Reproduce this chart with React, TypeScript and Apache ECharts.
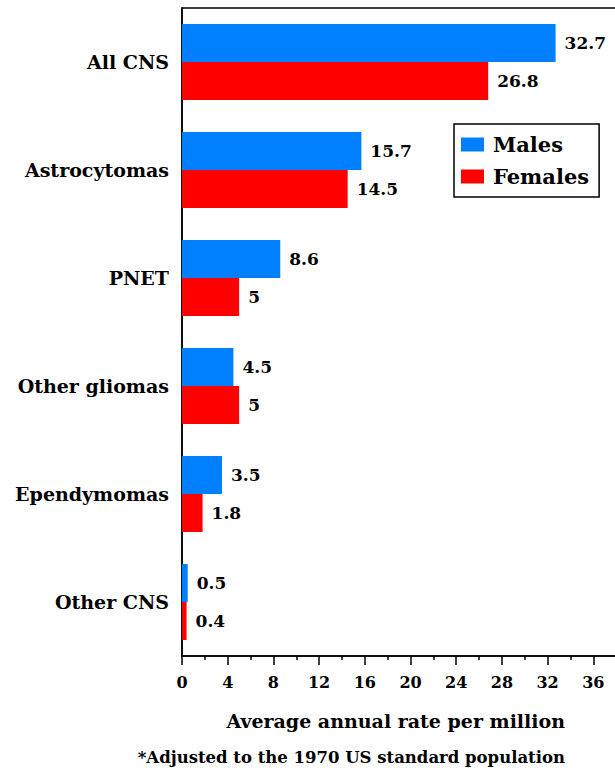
import React, { useEffect, useRef } from "react";
import * as echarts from "echarts";

const categories = ["All CNS", "Astrocytomas", "PNET", "Other gliomas", "Ependymomas", "Other CNS"];
const males = [32.7, 15.7, 8.6, 4.5, 3.5, 0.5];
const females = [26.8, 14.5, 5, 5, 1.8, 0.4];
const axisTitle = "Average annual rate per million";
const footnote = "*Adjusted to the 1970 US standard population";

const FONT = "'DejaVu Serif', 'Liberation Serif', serif";

export default function App() {
  const ref = useRef<HTMLDivElement>(null);
  useEffect(() => {
    if (!ref.current) return;
    const chart = echarts.init(ref.current, null, { renderer: "svg" });
    const labelStyle = {
      show: true,
      position: "right",
      distance: 9,
      fontFamily: FONT,
      fontWeight: "bold",
      fontSize: 17,
      color: "#000",
    };
    chart.setOption({
      animation: false,
      backgroundColor: "#fff",
      textStyle: { fontFamily: FONT },
      grid: {
        left: 182,
        top: 8,
        bottom: 119,
        right: -24,
        outerBoundsMode: "none",
        containLabel: false,
        show: true,
        borderColor: "#000",
        borderWidth: 1.5,
      },
      legend: {
        data: ["Males", "Females"],
        orient: "vertical",
        left: 454,
        top: 124,
        itemWidth: 23,
        itemHeight: 14,
        itemGap: 11,
        padding: [10, 10, 10, 7],
        borderColor: "#000",
        borderWidth: 1.5,
        backgroundColor: "#fff",
        icon: "rect",
        textStyle: {
          fontFamily: FONT,
          fontWeight: "bold",
          fontSize: 21,
          color: "#000",
          width: 104,
          padding: [0, 0, 0, 4],
        },
      },
      xAxis: {
        type: "value",
        min: 0,
        max: 40,
        interval: 4,
        axisLine: { show: true, lineStyle: { color: "#000", width: 1.5 } },
        axisTick: { show: true, length: 9, lineStyle: { color: "#000", width: 1.5 } },
        minorTick: { show: true, splitNumber: 2, length: 4, lineStyle: { color: "#000", width: 1.5 } },
        splitLine: { show: false },
        axisLabel: {
          margin: 18,
          showMaxLabel: false,
          fontFamily: FONT,
          fontWeight: "bold",
          fontSize: 16,
          color: "#000",
        },
      },
      yAxis: {
        type: "category",
        data: categories,
        inverse: true,
        axisLine: { show: true, lineStyle: { color: "#000", width: 1.5 } },
        axisTick: { show: false },
        axisLabel: {
          margin: 13,
          fontFamily: FONT,
          fontWeight: "bold",
          fontSize: 19,
          color: "#000",
        },
      },
      series: [
        {
          name: "Males",
          type: "bar",
          data: males,
          barWidth: 38,
          barGap: "0%",
          itemStyle: { color: "#0080FF" },
          label: labelStyle,
        },
        {
          name: "Females",
          type: "bar",
          data: females,
          barWidth: 38,
          barGap: "0%",
          itemStyle: { color: "#FF0000" },
          label: labelStyle,
        },
      ],
      graphic: [
        {
          type: "text",
          right: 50,
          top: 711,
          style: {
            text: axisTitle,
            fontFamily: FONT,
            fontWeight: "bold",
            fontSize: 19,
            fill: "#000",
          },
        },
        {
          type: "text",
          right: 50,
          top: 749,
          style: {
            text: footnote,
            fontFamily: FONT,
            fontWeight: "bold",
            fontSize: 16.5,
            fill: "#000",
          },
        },
      ],
    });
    return () => chart.dispose();
  }, []);
  return (
    <div
      ref={ref}
      style={{ position: "absolute", left: 0, top: 0, width: 615, height: 775 }}
    />
  );
}
